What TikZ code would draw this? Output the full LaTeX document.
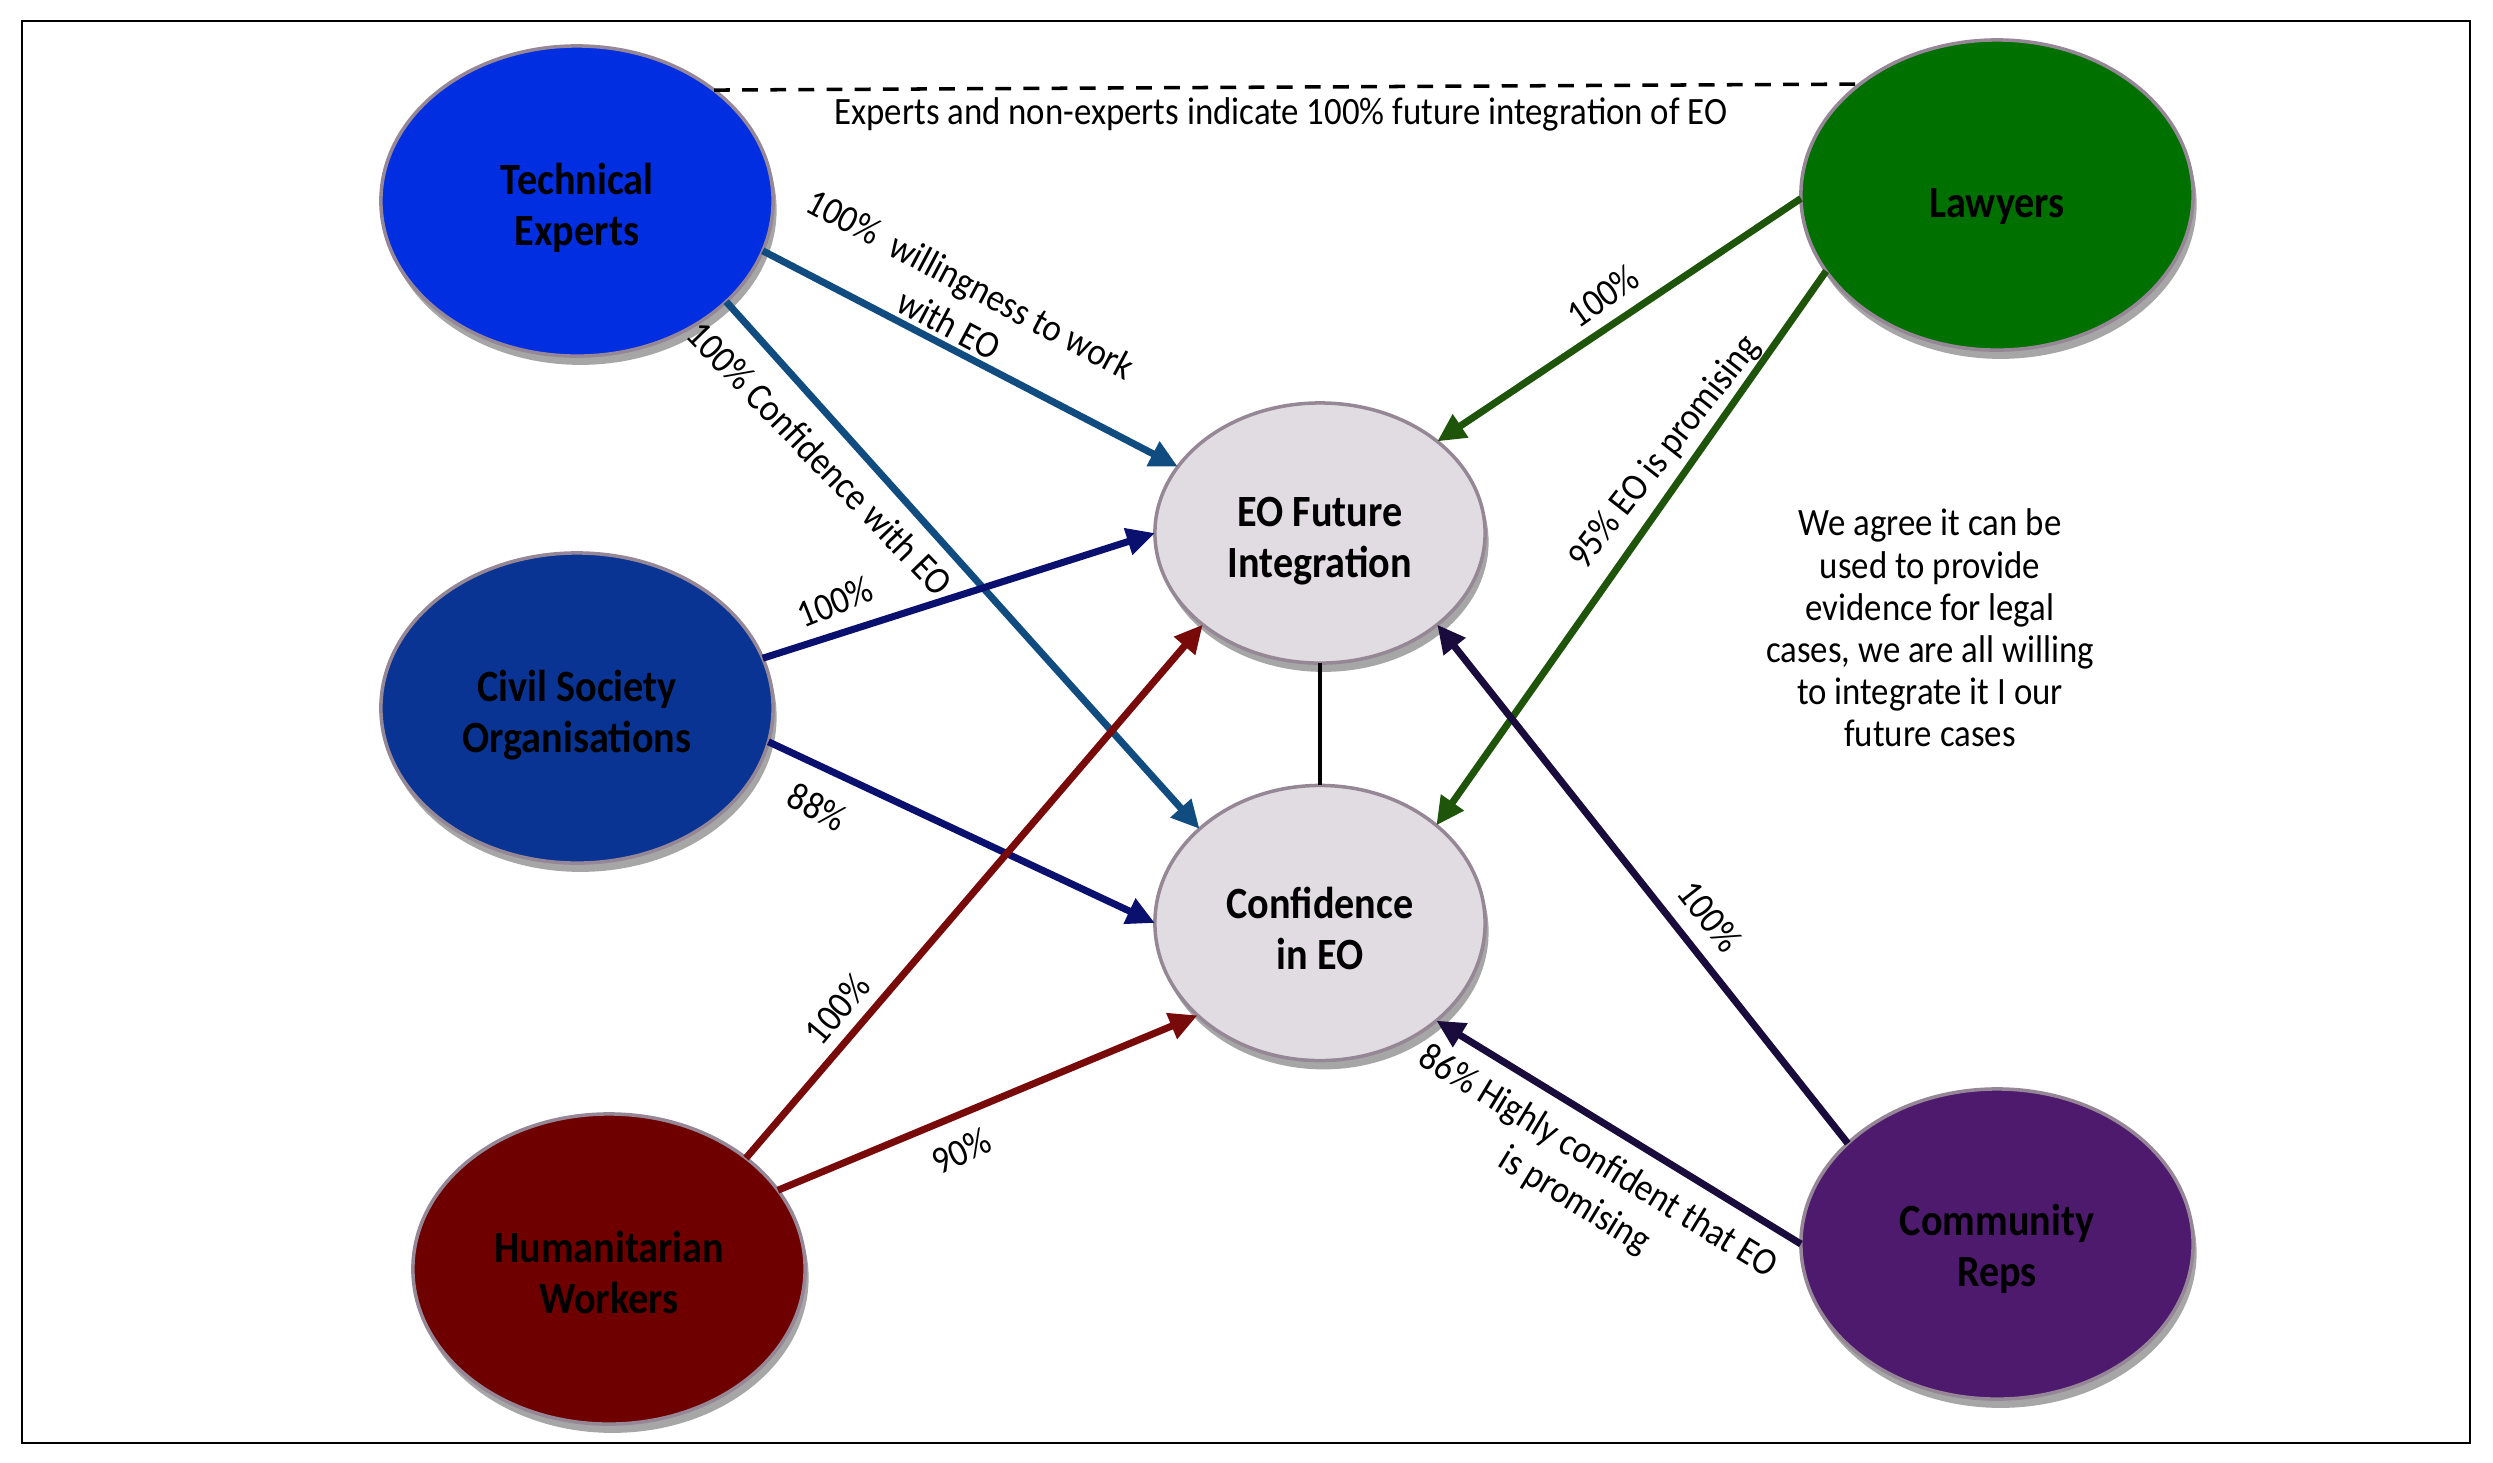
\documentclass[tikz,border=0pt]{standalone}
\usepackage{fontspec}
\setmainfont{Carlito}[FakeStretch=0.9]
\usetikzlibrary{shapes.geometric,shadows,arrows.meta}
\definecolor{tecf}{RGB}{2,46,225}
\definecolor{csof}{RGB}{10,52,148}
\definecolor{humf}{RGB}{110,0,0}
\definecolor{lawf}{RGB}{0,112,0}
\definecolor{comf}{RGB}{78,26,110}
\definecolor{ctrf}{RGB}{225,220,226}
\definecolor{rimc}{RGB}{150,135,150}
\definecolor{tea}{RGB}{16,76,128}
\definecolor{csoa}{RGB}{10,16,110}
\definecolor{huma}{RGB}{120,10,10}
\definecolor{lawa}{RGB}{30,85,10}
\definecolor{coma}{RGB}{25,12,60}
\newcommand{\tup}{\rule{0pt}{13pt}}
\begin{document}
\begin{tikzpicture}[x=0.01cm,y=-0.01cm,
  grp/.style={ellipse, draw=rimc, line width=1pt, minimum width=3.92cm, minimum height=3.1cm,
    inner sep=0pt, outer sep=0pt, align=center,
    font=\fontsize{12.7}{14.5}\selectfont\bfseries,
    drop shadow={shadow xshift=1pt, shadow yshift=-2.5pt, opacity=0.35, fill=black}},
  ctr/.style={grp, fill=ctrf, minimum width=3.3cm, minimum height=2.6cm},
  link/.style={line width=2pt, -{Triangle[length=8pt,width=7.5pt]}},
  lbl/.style={font=\fontsize{11}{12}\selectfont, align=center, inner sep=1pt},
  lbl2/.style={font=\fontsize{11}{13}\selectfont, align=center, inner sep=1pt},
]
\useasboundingbox (0,0) rectangle (2493,1462);
\draw[line width=0.7pt] (22,21) rectangle (2470,1443);

\node[grp, fill=tecf] (te) at (577,201) {\tup Technical\\Experts};
\node[grp, fill=csof] (cso) at (577,708) {\tup Civil Society\\Organisations};
\node[grp, fill=humf] (hw) at (609,1269) {\rule{0pt}{11pt}Humanitarian\\Workers};
\node[grp, fill=lawf] (law) at (1997,195) {\rule{0pt}{14.5pt}Lawyers};
\node[grp, fill=comf] (cr) at (1997,1244) {\rule{0pt}{11.5pt}Community\\Reps};
\node[ctr] (eof) at (1320,533) {\tup EO Future\\Integration};
\node[ctr, minimum height=2.75cm] (conf) at (1320,923) {\rule{0pt}{12pt}Confidence\\in EO};

\draw[line width=1pt, dash pattern=on 4.5pt off 3.5pt] (te.39) -- (law.141);
\draw[line width=1.3pt] (eof.south) -- (conf.north);

\draw[link, tea] (te.-15) -- (eof.155);
\draw[link, tea] (te.-34) -- (conf.142);
\draw[link, csoa] (cso.15) -- (eof.180);
\draw[link, csoa] (cso.-10) -- (conf.180);
\draw[link, huma] (hw.39) -- (eof.218);
\draw[link, huma] (hw.25) -- (conf.217);
\draw[link, lawa] (law.181) -- (eof.38);
\draw[link, lawa] (law.204) -- (conf.40);
\draw[link, coma] (cr.146) -- (eof.-38);
\draw[link, coma] (cr.180) -- (conf.-40);

\node[lbl] (ltop) at (1281,114) {Experts and non-experts indicate 100\% future integration of EO};
\node[lbl2, rotate=-28] (l1) at (960,304) {100\%~ willingness to work\\with EO};
\node[lbl, rotate=-46] (l2) at (820,458) {100\% Confidence with EO};
\node[lbl, rotate=22] (l3) at (835,602) {100\%};
\node[lbl, rotate=-27] (l4) at (817,807) {88\%};
\node[lbl, rotate=50] (l5) at (837,1009) {100\%};
\node[lbl, rotate=25] (l6) at (961,1151) {90\%};
\node[lbl, rotate=35] (l7) at (1603,296) {100\%};
\node[lbl, rotate=52] (l8) at (1665,453) {95\% EO is promising};
\node[lbl, rotate=-52] (l9) at (1710,916) {100\%};
\node[lbl2, rotate=-31.4] (l10) at (1586,1182) {86\% Highly confident that EO\\is promising};
\node[lbl] (note) at (1930,628) {We agree it can be\\used to provide\\evidence for legal\\cases, we are all willing\\to integrate it I our\\future cases};
\end{tikzpicture}
\end{document}
